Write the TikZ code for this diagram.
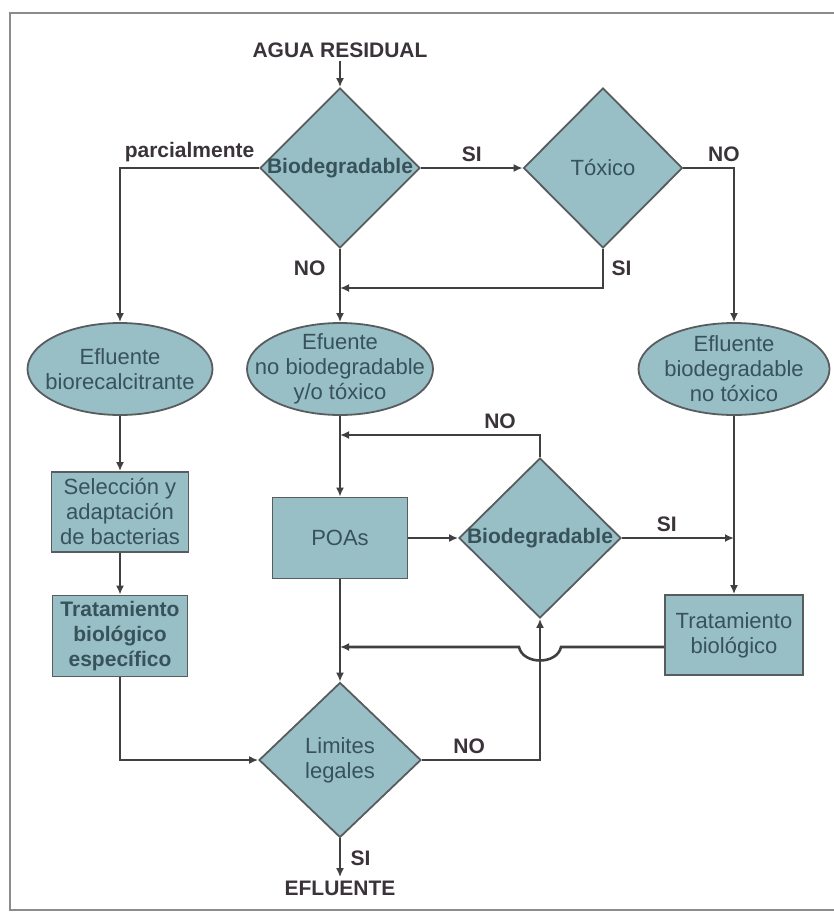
\documentclass[tikz,border=0pt]{standalone}
\usepackage{fontspec}
\setmainfont{Liberation Sans}
\usetikzlibrary{shapes.geometric,arrows.meta}
\definecolor{cajafondo}{RGB}{152,190,198}
\definecolor{cajaborde}{RGB}{88,92,94}
\definecolor{cajatexto}{RGB}{56,82,90}
\definecolor{flecha}{RGB}{64,64,66}
\definecolor{rotulo}{RGB}{58,52,58}

\begin{document}
\begin{tikzpicture}[x=1pt,y=-1pt,
	forma/.style={draw=cajaborde,fill=cajafondo,line width=1.8pt,inner sep=0pt},
	decision/.style={forma,diamond,label={[texto]center:#1}},
	efluente/.style={forma,ellipse,label={[texto]center:#1}},
	proceso/.style={forma,rectangle,texto},
	texto/.style={align=center,text=cajatexto,font=\fontsize{22}{25}\selectfont},
	negrita/.style={align=center,text=cajatexto,font=\fontsize{21}{25}\selectfont\bfseries},
	rot/.style={text=rotulo,font=\fontsize{21}{24}\selectfont\bfseries},
	flujo/.style={draw=flecha,line width=2.6pt,-{Latex[length=9pt,width=8pt]}}
	]
\useasboundingbox (0,0) rectangle (834,918);
\draw[draw=black!45,line width=1.5pt] (834,13) -- (10,13) -- (10,910) -- (834,910);

\node[rot] (agua) at (340,50) {AGUA RESIDUAL};
\node[forma,diamond,label={[negrita]center:Biodegradable},minimum width=160pt,minimum height=160pt] (bio1) at (340,168) {};
\node[decision={Tóxico},minimum width=159pt,minimum height=160pt] (tox) at (603,168) {};

\node[efluente={Efluente\\biorecalcitrante},minimum width=185pt,minimum height=92pt] (ef1) at (120,369) {};
\node[efluente={Efuente\\no biodegradable\\y/o tóxico},minimum width=186pt,minimum height=92pt] (ef2) at (340,369) {};
\node[efluente={Efluente\\biodegradable\\no tóxico},minimum width=191pt,minimum height=92pt] (ef3) at (734,369) {};

\node[proceso,minimum width=137pt,minimum height=80pt] (sel) at (120,512) {Selección y\\adaptación\\de bacterias};
\node[proceso,negrita,minimum width=135pt,minimum height=81pt] (tbe) at (120,636) {Tratamiento\\biológico\\específico};
\node[proceso,minimum width=135pt,minimum height=81pt] (poa) at (340,538) {POAs};
\node[forma,diamond,label={[negrita]center:Biodegradable},minimum width=162pt,minimum height=160pt] (bio2) at (540,538) {};
\node[proceso,minimum width=138pt,minimum height=80pt] (trb) at (734,635) {Tratamiento\\biológico};

\node[decision={Limites\\legales},minimum width=162pt,minimum height=155pt] (lim) at (340,760) {};
\node[rot] (salida) at (340,888) {EFLUENTE};

\coordinate (j1) at (340,288);
\coordinate (j3) at (340,435);
\coordinate (j4) at (340,647);

\draw[flujo] (agua) -- (bio1.north);
\draw[flujo] (bio1.west) -- node[rot,above=2pt]{parcialmente} (ef1.north |- bio1.west) -- (ef1.north);
\draw[flujo] (bio1.east) -- node[rot,above=2pt]{SI} (tox.west);
\draw[flujo] (tox.east) -- node[rot,above=2pt,pos=0.8]{NO} (ef3.north |- tox.east) -- (ef3.north);
\draw[flujo] (bio1.south) -- node[rot,left=10pt,pos=0.27]{NO} (ef2.north);
\draw[flujo] (tox.south) -- node[rot,right=4pt]{SI} (tox.south |- j1) -- (j1);

\draw[flujo] (ef1.south) -- (sel.north);
\draw[flujo] (sel.south) -- (tbe.north);
\draw[flujo] (tbe.south) |- (lim.west);

\draw[flujo] (ef2.south) -- (poa.north);
\draw[flujo] (bio2.north) |- node[rot,above=2pt,pos=0.6]{NO} (j3);
\draw[flujo] (poa.east) -- (bio2.west);
\draw[flujo] (bio2.east) -- node[rot,above=2pt,pos=0.4]{SI} (bio2.east -| trb.north);
\draw[flujo] (ef3.south) -- (trb.north);
\draw[flujo] (poa.south) -- (lim.north);
\draw[flujo] (trb.west |- j4) -- (561,647) .. controls (557,665) and (523,665) .. (519,647) -- (j4);

\draw[flujo] (lim.east) -| node[rot,above=2pt,pos=0.2]{NO} (bio2.south);
\draw[flujo] (lim.south) -- node[rot,right=6pt]{SI} (salida.north);
\end{tikzpicture}
\end{document}
